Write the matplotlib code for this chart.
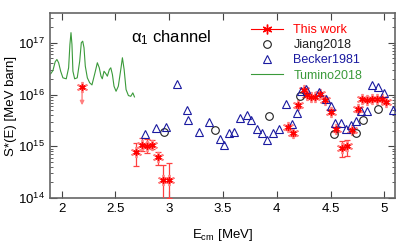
import matplotlib.pyplot as plt
import numpy as np
from matplotlib.lines import Line2D
from matplotlib.legend_handler import HandlerTuple

plt.rcParams['font.family'] = ['Liberation Sans', 'DejaVu Sans']

# Tumino2018 (green curve)
tum_e = [1.898, 1.919, 1.940, 1.956, 1.972, 1.991, 2.012, 2.043, 2.065, 2.077, 2.087,
         2.096, 2.105, 2.121, 2.145, 2.168, 2.183, 2.196, 2.208, 2.220, 2.239, 2.261,
         2.282, 2.310, 2.332, 2.350, 2.366, 2.378, 2.394, 2.410, 2.425, 2.444, 2.457,
         2.472, 2.487, 2.506, 2.527, 2.550, 2.565, 2.581, 2.599, 2.621, 2.643, 2.662,
         2.677]
tum_s = [2.52e16, 2.92e16, 4.31e16, 4.78e16, 4.13e16, 2.83e16, 2.11e16, 2.02e16, 3.30e16,
         9.35e16, 1.58e17, 9.35e16, 2.83e16, 2.02e16, 2.11e16, 4.43e16, 1.01e17, 1.08e17,
         8.07e16, 3.55e16, 2.11e16, 1.69e16, 1.54e16, 2.64e16, 4.13e16, 3.30e16, 2.27e16,
         2.02e16, 2.83e16, 2.56e16, 2.27e16, 3.06e16, 3.30e16, 2.45e16, 1.45e16, 1.16e16,
         1.45e16, 3.06e16, 5.16e16, 3.06e16, 1.25e16, 9.57e15, 9.27e15, 1.08e16, 9.02e15]

# This work
tw_e = [2.692, 2.746, 2.792, 2.844, 2.895, 2.947, 3.0,
        4.103, 4.153, 4.202, 4.253, 4.283, 4.321, 4.356, 4.398, 4.445, 4.500, 4.547,
        4.603, 4.650, 4.703, 4.752, 4.796, 4.842, 4.889, 4.936, 4.982, 5.018]
tw_s = [7.9e14, 1.07e15, 9.9e14, 1.07e15, 6.3e14, 2.24e14, 2.24e14,
        2.36e15, 1.79e15, 6.25e15, 1.22e16, 9.8e15, 9.0e15, 9.0e15, 1.02e16, 8.0e15,
        4.68e15, 2.16e15, 9.2e14, 1.02e15, 2.03e15, 5.2e15, 8.2e15, 8.0e15, 8.2e15,
        8.2e15, 8.2e15, 7.3e15]
tw_lo = [4.2e14, 8.2e14, 7.5e14, 8.8e14, 4.4e14, 5e13, 1.0e14,
         2.1e15, 1.6e15, 5.6e15, 1.1e16, 8.8e15, 8.1e15, 8.1e15, 9.2e15, 7.2e15,
         4.2e15, 1.9e15, 6.2e14, 6.5e14, 1.8e15, 4.7e15, 7.4e15, 7.2e15, 7.4e15,
         7.4e15, 7.4e15, 6.6e15]
tw_hi = [1.15e15, 1.44e15, 1.4e15, 1.3e15, 7.9e14, 4.4e14, 4.8e14,
         2.6e15, 2.0e15, 6.9e15, 1.34e16, 1.08e16, 9.9e15, 9.9e15, 1.12e16, 8.8e15,
         5.2e15, 2.4e15, 1.24e15, 1.34e15, 2.25e15, 5.7e15, 9.0e15, 8.8e15, 9.0e15,
         9.0e15, 9.0e15, 8.0e15]

# upper limit
ul_e = 2.19
ul_s = 1.41e16
ul_tip = 5.5e15

# Jiang2018
ji_e = [2.956, 3.429, 3.929, 4.216, 4.531, 4.733, 4.805, 4.938]
ji_s = [1.91e15, 2.09e15, 3.91e15, 9.6e15, 1.73e15, 1.83e15, 3.27e15, 5.2e15]

# Becker1981
be_e = [2.774, 2.874, 2.969, 3.077, 3.161, 3.174, 3.275, 3.373, 3.475, 3.513, 3.553,
        3.603, 3.655, 3.724, 3.761, 3.817, 3.865, 3.911, 3.966, 4.020, 4.090, 4.144,
        4.190, 4.224, 4.276, 4.391, 4.454, 4.500, 4.541, 4.598, 4.640, 4.687, 4.738,
        4.780, 4.843, 4.889, 4.941, 4.999, 5.085]
be_s = [1.70e15, 2.24e15, 2.39e15, 1.60e16, 5.1e15, 3.27e15, 1.91e15, 2.90e15, 1.38e15,
        1.07e15, 1.80e15, 1.87e15, 3.50e15, 4.09e15, 3.20e15, 2.17e15, 1.77e15, 1.34e15,
        1.83e15, 2.16e15, 6.7e15, 2.73e15, 4.33e15, 1.18e16, 1.3e16, 1.11e16, 8.3e15,
        6.1e15, 2.86e15, 2.80e15, 2.16e15, 2.56e15, 3.06e15, 4.78e15, 4.78e15, 1.56e16,
        1.43e16, 1.09e16, 5.1e15]

fig = plt.figure(figsize=(4.15, 2.49), dpi=100)
ax = fig.add_axes([0.120, 0.205, 0.832, 0.743])

red = '#ff0000'
pink = '#ff8080'
green = '#3a9a3a'
navy = '#1a1aa0'

ax.plot(tum_e, tum_s, color=green, lw=0.8, zorder=2)

tw_e = np.array(tw_e)
tw_s = np.array(tw_s)
yerr = [tw_s - np.array(tw_lo), np.array(tw_hi) - tw_s]
ax.errorbar(tw_e, tw_s, yerr=yerr, fmt='none', ecolor='#ff4040', elinewidth=0.9,
            capsize=2.5, capthick=0.9, zorder=3)
ax.plot(tw_e, tw_s, ls='none', marker=(6, 2, 0), ms=8, mec=pink, mew=1.3, zorder=3)
ax.plot(tw_e, tw_s, ls='none', marker=(6, 2, 0), ms=4.5, mec=red, mew=1.0, zorder=4)

ax.annotate('', xy=(ul_e, ul_tip), xytext=(ul_e, ul_s),
            arrowprops=dict(arrowstyle='-|>', color=pink, lw=1.0, mutation_scale=6))
ax.plot([ul_e], [ul_s], ls='none', marker=(6, 2, 0), ms=8, mec=pink, mew=1.3, zorder=3)
ax.plot([ul_e], [ul_s], ls='none', marker=(6, 2, 0), ms=4.5, mec=red, mew=1.0, zorder=4)

ax.plot(ji_e, ji_s, ls='none', marker='o', ms=5.5, mfc='none', mec='#202020', mew=0.8,
        zorder=3)
ax.plot(be_e, be_s, ls='none', marker='^', ms=5.5, mfc='none', mec=navy, mew=0.8,
        zorder=3)

# legend handles
h1 = (Line2D([], [], color=red, lw=0.8, marker='|', ms=6, mew=0.8, markevery=[0, -1]),
      Line2D([], [], ls='none', marker=(6, 2, 0), ms=7, mec=red, mew=1.0))
h2 = Line2D([], [], ls='none', marker='o', ms=5.5, mfc='none', mec='#202020', mew=0.8)
h3 = Line2D([], [], ls='none', marker='^', ms=5.5, mfc='none', mec=navy, mew=0.8)
h4 = Line2D([], [], color=green, lw=0.8)
leg = ax.legend([h1, h2, h3, h4], ['This work', 'Jiang2018', 'Becker1981', 'Tumino2018'],
                handler_map={tuple: HandlerTuple(ndivide=1)},
                loc='upper left', bbox_to_anchor=(0.55, 1.0), frameon=False,
                fontsize=9, handlelength=2.6, handletextpad=0.8, labelspacing=0.25)
for t, c in zip(leg.get_texts(), [red, '#202020', navy, green]):
    t.set_color(c)

ax.text(0.235, 0.865, r'$\mathregular{\alpha_1}$ channel', transform=ax.transAxes,
        fontsize=12, va='center')

ax.set_yscale('log')
ax.set_xlim(1.89, 5.1)
ax.set_ylim(1e14, 3.8e17)
ax.set_xticks([2, 2.5, 3, 3.5, 4, 4.5, 5])
ax.set_xticklabels(['2', '2.5', '3', '3.5', '4', '4.5', '5'])
ax.tick_params(which='both', direction='in', top=True, right=True, labelsize=9.5,
               color='#444444')
ax.tick_params(which='major', length=5)
ax.tick_params(which='minor', length=2.5)
for s in ax.spines.values():
    s.set_color('#666666')
    s.set_linewidth(1.2)

ax.set_xlabel(r'E$_{\mathregular{cm}}$ [MeV]', fontsize=9.5, labelpad=9)
ax.set_ylabel('S*(E) [MeV barn]', fontsize=9.5, labelpad=1)

fig.savefig('out.png', dpi=100)
